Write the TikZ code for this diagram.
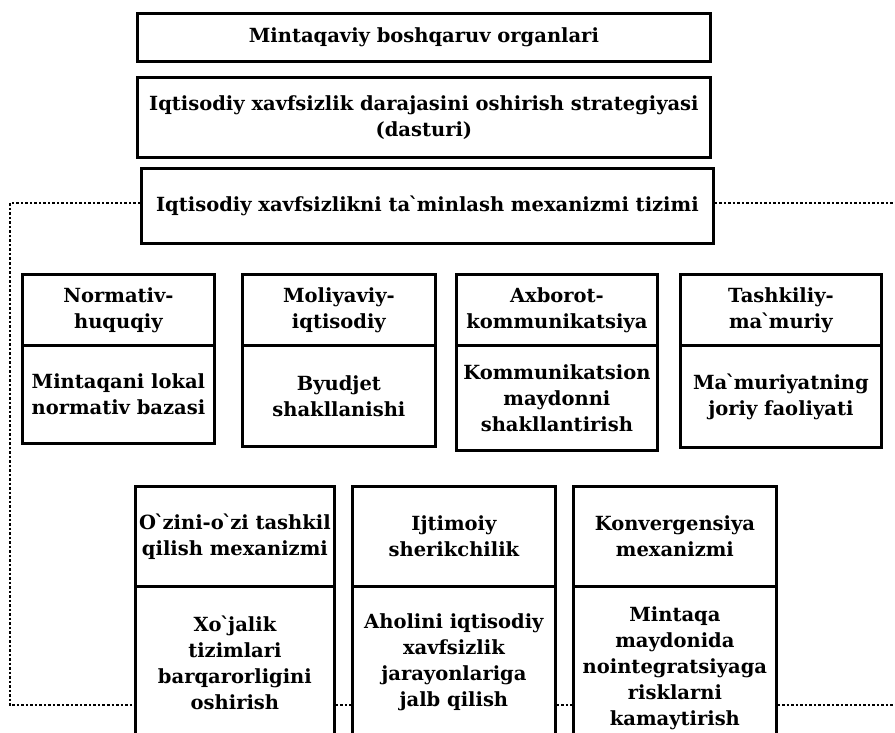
\documentclass[tikz,border=0pt]{standalone}
\usepackage{fontspec}
\setmainfont{DejaVu Serif}
\newcommand{\bxfont}{\bfseries\fontsize{19.5}{26}\selectfont}
\newcommand{\gr}{\kern-1.6pt\textasciigrave\kern-1.6pt}
\begin{document}
\begin{tikzpicture}[x=1pt,y=-1pt,
  box/.style={draw, line width=2.8pt, inner sep=0pt, align=center, font=\bxfont, anchor=north west},
  dotline/.style={line width=1.6pt, dash pattern=on 2.5pt off 2pt}]
\useasboundingbox (0,0) rectangle (895,733);
\clip (0,0) rectangle (895,733);
% top boxes
\node[box, minimum width=573pt, minimum height=48pt] (b1) at (136,12) {Mintaqaviy boshqaruv organlari};
\node[box, minimum width=573pt, minimum height=80pt] (b2) at (136,76) {Iqtisodiy xavfsizlik darajasini oshirish strategiyasi\\(dasturi)};
\node[box, minimum width=572pt, minimum height=75pt] (b3) at (140,167) {Iqtisodiy xavfsizlikni ta\gr minlash mexanizmi tizimi};
% row 2
\node[box, minimum width=192pt, minimum height=71pt] (a1) at (21,273) {Normativ-\\huquqiy};
\node[box, minimum width=192pt, minimum height=98pt] (a2) at (21,344) {Mintaqani lokal\\normativ bazasi};
\node[box, minimum width=193pt, minimum height=71pt] (c1) at (241,273) {Moliyaviy-\\iqtisodiy};
\node[box, minimum width=193pt, minimum height=101pt] (c2) at (241,344) {Byudjet\\shakllanishi};
\node[box, minimum width=201pt, minimum height=71pt] (d1) at (455,273) {Axborot-\\kommunikatsiya};
\node[box, minimum width=201pt, minimum height=105pt] (d2) at (455,344) {Kommunikatsion\\maydonni\\shakllantirish};
\node[box, minimum width=201pt, minimum height=71pt] (t1) at (679,273) {Tashkiliy-\\ma\gr muriy};
\node[box, minimum width=201pt, minimum height=102pt] (t2) at (679,344) {Ma\gr muriyatning\\joriy faoliyati};
% row 3
\node[box, minimum width=199pt, minimum height=100pt] (e1) at (134,485) {O\gr zini-o\gr zi tashkil\\qilish mexanizmi};
\node[box, minimum width=199pt, minimum height=152pt] (e2) at (134,585) {Xo\gr jalik\\tizimlari\\barqarorligini\\oshirish};
\node[box, minimum width=203pt, minimum height=100pt] (f1) at (351,485) {Ijtimoiy\\sherikchilik};
\node[box, minimum width=203pt, minimum height=152pt] (f2) at (351,585) {Aholini iqtisodiy\\xavfsizlik\\jarayonlariga\\jalb qilish};
\node[box, minimum width=203pt, minimum height=100pt] (g1) at (572,485) {Konvergensiya\\mexanizmi};
\node[box, minimum width=203pt, minimum height=152pt] (g2) at (572,585) {};
\node[font=\bxfont, align=center, inner sep=0pt] (g2t) at ([yshift=-6pt]g2.center) {Mintaqa\\maydonida\\nointegratsiyaga\\risklarni\\kamaytirish};
% dotted connectors
\coordinate (tl) at (10,203);
\coordinate (tr) at (895,203);
\coordinate (bl) at (10,705);
\coordinate (br) at (895,705);
\draw[dotline] (b3.west |- tl) -- (tl) -- (bl) -- (bl -| e2.west);
\draw[dotline] (b3.east |- tr) -- (tr);
\draw[dotline] (bl -| e2.east) -- (bl -| f2.west);
\draw[dotline] (bl -| f2.east) -- (bl -| g2.west);
\draw[dotline] (bl -| g2.east) -- (br);
\end{tikzpicture}
\end{document}
